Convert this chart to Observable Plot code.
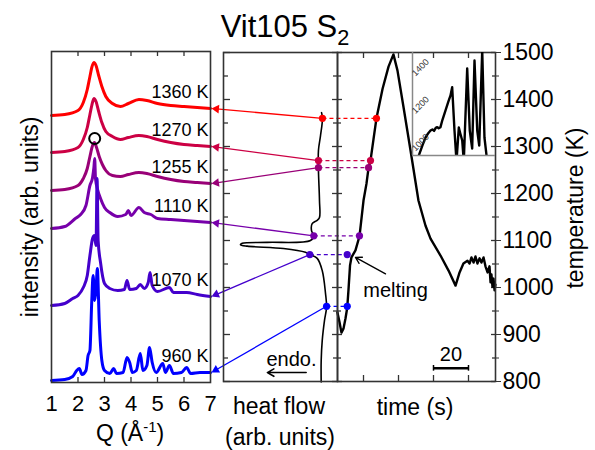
<!DOCTYPE html>
<html><head><meta charset="utf-8">
<script src="https://cdn.jsdelivr.net/npm/d3@7"></script>
<script src="https://cdn.jsdelivr.net/npm/@observablehq/plot@0.6"></script>
<style>
body{margin:0;background:#fff;}
#chart{position:relative;width:595px;height:450px;overflow:hidden;font-family:"Liberation Sans",Arial,sans-serif;color:#000;background:#fff;}
#chart svg{position:absolute;left:0;top:0;overflow:visible;background:transparent !important;}
.lbl{position:absolute;white-space:nowrap;line-height:1;}
</style></head><body><div id="chart"></div>
<script>
// ---------- data ----------
const temps = [1360, 1270, 1255, 1110, 1070, 960];
const colors = ["#ff0000", "#cc0044", "#990077", "#7700aa", "#4400cc", "#0000ff"];
const dscHF = [86.8, 83.3, 83.3, 79.2, 75.7, 90.4];        // heat flow at each probe temperature
const probeTime = [27.4, 24.0, 22.9, 17.7, 10.7, 10.7];    // time (s) at each probe temperature

// XRD curves (Q in 1/Å, intensity in arb. units incl. offset)
const q1360 = [1,1.5,2,2.2,2.35,2.45,2.52,2.6,2.68,2.78,2.9,3.05,3.3,3.6,3.9,4.3,4.6,5,5.5,6,6.5,7];
const i1360 = [267,268,272,280,293,306,315,320,317,307,296,286,279,276,279,283,282,279,277,276,275,274];
const q1270 = [1,1.5,2,2.2,2.35,2.45,2.52,2.6,2.68,2.78,2.9,3.05,3.3,3.6,3.9,4.3,4.6,5,5.5,6,6.5,7];
const i1270 = [230,231,235,243,255,268,277,284,281,271,260,251,246,243,245,247,246,243,240,238,237,236];
const q1255 = [1,1.5,2,2.2,2.35,2.45,2.55,2.62,2.7,2.8,2.92,3.05,3.3,3.6,3.9,4.3,4.6,5,5.5,6,6.5,7];
const i1255 = [192,193,197,204,214,226,237,240,235,226,218,212,207,206,208,210,209,206,203,201,200,199];
const q1110 = [1,1.5,1.9,2.1,2.3,2.45,2.55,2.6,2.63,2.66,2.75,2.85,3,3.2,3.5,3.8,3.9,4,4.3,4.5,4.75,5,5.5,6,6.5,7];
const i1110 = [154,156,164,168,177,197,205,215,224,204,192,184,175,170,166,168,172,167,175,170,168,164,163,162,161,160];
const q1070 = [1,1.5,1.8,2,2.2,2.35,2.45,2.55,2.62,2.68,2.72,2.76,2.85,3,3.2,3.5,3.75,3.85,3.95,4.2,4.35,4.5,4.65,4.72,4.8,5,5.45,5.6,6.1,6.5,7];
const i1070 = [77,79,84,87,95,107,127,144,147,137,204,142,120,99,94,92,93,102,93,94,98,94,100,110,97,91,95,90,90,88,86];
const q960 = [1,1.5,1.8,1.95,2.05,2.15,2.3,2.38,2.45,2.52,2.57,2.63,2.68,2.73,2.8,2.9,3,3.2,3.35,3.45,3.7,3.85,3.95,4.05,4.2,4.35,4.45,4.6,4.7,4.8,4.95,5.2,5.3,5.45,5.6,5.9,6.1,6.25,6.6,7];
const i960 = [2,3,6,12,14,8,12,27,32,82,107,82,92,114,62,22,12,9,14,9,10,25,20,10,12,29,12,17,35,20,10,19,10,17,9,10,15,9,10,10];
const circleMark = {q: 2.63, I: 244};

// DSC trace
const dscHeat = [86.0,86.8,85.1,83.3,83.3,84.2,84.2,82.2,77.8,77.2,79.2,76.3,38.3,16.4,14.9,20.8,52.6,71.9,75.7,82.2,86.6,89.5,90.4,88.6,86.6,85.7,85.7];
const dscTemp = [1372,1360,1323,1292,1249,1185,1149,1143,1136,1121,1110,1100,1096,1094,1091,1088,1083,1075,1070,1062,1036,987,958,930,887,845,799];

// temperature vs time
const timeS = [5.1,6.3,7.4,8.6,9.7,10.7,11.4,12.3,13.1,15.4,17.7,20.0,21.7,22.9,24.0,25.7,27.4,30.9,34.3,37.1,39.4,42.9,46.9,51.4,55.4,58.3,64.0,68.6,72.6,74.9,77.1,79.4,80.6,81.7,82.9,84.0,85.1,86.3,87.4,88.6,89.7,90.9,92.0,92.6,93.1,93.7,94.3,94.9,95.4];
const tempK = [947,926,904,913,934,957,994,1047,1064,1079,1109,1185,1221,1255,1270,1315,1360,1423,1470,1496,1462,1383,1291,1185,1132,1104,1068,1036,1004,1032,1051,1057,1051,1064,1053,1066,1051,1062,1053,1064,1045,1032,1045,1011,1028,1002,1019,994,1006];

// inset (temperature vs time, later cycles)
const insetTime = [7.6,12,15.7,19,21.7,24,26,28,29.8,31.5,33.7,36,39.8,43,45.8,47.8,50.6,53.0,55.8,57.5,59.9,61.8,65.9,69.0,71.9,74.7,78.0,80.4,84.0,86.7,90.0];
const insetTemp = [931,985,1027,1050,1064,1070,1062,1078,1082,1076,1082,1120,1171,1215,1251,1295,1064,900,1080,1050,1011,900,1395,1064,968,1437,1064,984,1490,1027,900];
const insetTicks = [1000, 1200, 1400];

// ticks / annotations
const qTicks = [1,2,3,4,5,6,7];
const tMajor = [800,900,1000,1100,1200,1300,1400,1500];
const tMinor = [850,950,1050,1150,1250,1350,1450];
const timeTicks = [20,40,60,80];
const scaleBar = {t1: 60, t2: 80, T: 828, label: "20", labelT: 857};
const melting = {t: 38.3, T: 994, label: "melting", t1: 32.6, T1: 1029, t2: 15.4, T2: 1064};
const endo = {hf: 59.6, T: 846, label: "endo.", hf1: 72.5, hf2: 38.5, Ta: 819};

// ---------- layout ----------
const W = 595, H = 450;
const FONT = '"Liberation Sans", Arial, sans-serif';
const AX = "#333";
const chart = document.getElementById("chart");
const colorScale = {type: "ordinal", domain: temps, range: colors};
function prep(svg) {
  svg.style.position = "absolute"; svg.style.left = "0px"; svg.style.top = "0px";
  svg.style.background = "transparent"; svg.style.overflow = "visible"; svg.style.fontFamily = FONT;
  return svg;
}

// Panel 1: XRD
const curves = [[q1360,i1360],[q1270,i1270],[q1255,i1255],[q1110,i1110],[q1070,i1070],[q960,i960]];
const xrdRows = curves.flatMap(([q, I], k) => q.map((v, j) => ({T: temps[k], q: v, I: I[j]})));
const ends = curves.map(([q, I]) => I[I.length - 1]);
const endRows = temps.map((T, k) => ({T, q: 7, I: ends[k]}));
const F1 = {l: 51, r: 210, t: 51, b: 382};
const p1 = prep(Plot.plot({
  width: W, height: H, marginLeft: F1.l, marginRight: W - F1.r, marginTop: F1.t, marginBottom: H - F1.b,
  x: {domain: [1, 7]}, y: {domain: [0, 331], axis: null}, color: colorScale,
  marks: [
    Plot.line(xrdRows, {x: "q", y: "I", z: "T", stroke: "T", strokeWidth: 3, strokeLinejoin: "round", curve: "monotone-x"}),
    Plot.dot([circleMark], {x: "q", y: "I", r: 5.5, stroke: "black", strokeWidth: 2, fill: "none"}),
    Plot.text(endRows, {x: "q", y: "I", text: d => `${d.T} K`, textAnchor: "end", dx: -2, dy: -16, fontSize: 18}),
    Plot.tickX(qTicks.slice(1, -1), {x: d => d, insetBottom: 326, stroke: AX, strokeWidth: 1.3}),
    Plot.tickX(qTicks.slice(1, -1), {x: d => d, insetTop: 326, stroke: AX, strokeWidth: 1.3}),
    Plot.frame({stroke: AX, strokeWidth: 1.6}),
    Plot.axisX({anchor: "bottom", ticks: qTicks, tickFormat: d => String(d), tickSize: 0, tickPadding: 13, fontSize: 22, label: null})
  ]
}));

// Panel 2: DSC
const F2 = {l: 223, r: 337, t: 52, b: 381};
const dscRows = dscHeat.map((h, k) => ({hf: h, T: dscTemp[k]}));
const probes2 = temps.map((T, k) => ({T, hf: dscHF[k]}));
const w2 = F2.r - F2.l;
const p2 = prep(Plot.plot({
  width: W, height: H, marginLeft: F2.l, marginRight: W - F2.r, marginTop: F2.t, marginBottom: H - F2.b,
  x: {domain: [0, 100], axis: null}, y: {domain: [800, 1500], axis: null}, color: colorScale,
  marks: [
    Plot.tickY(tMajor, {y: d => d, insetRight: w2 - 7, stroke: AX, strokeWidth: 1.3}),
    Plot.tickY(tMinor, {y: d => d, insetRight: w2 - 5, stroke: AX, strokeWidth: 1.3}),
    Plot.tickY(tMajor, {y: d => d, insetLeft: w2 - 5, stroke: AX, strokeWidth: 1.3}),
    Plot.tickY(tMinor, {y: d => d, insetLeft: w2 - 4, stroke: AX, strokeWidth: 1.3}),
    Plot.line(dscRows, {x: "hf", y: "T", stroke: "black", strokeWidth: 1.6, curve: "catmull-rom"}),
    Plot.arrow([endo], {x1: "hf1", y1: "Ta", x2: "hf2", y2: "Ta", stroke: "black", strokeWidth: 1.6, headLength: 7}),
    Plot.text([endo], {x: "hf", y: "T", text: "label", fontSize: 20}),
    Plot.dot(probes2, {x: "hf", y: "T", fill: "T", r: 3.6}),
    Plot.frame({stroke: AX, strokeWidth: 1.6})
  ]
}));

// Panel 3: temperature vs time
const F3 = {l: 337, r: 495, t: 52, b: 381};
const w3 = F3.r - F3.l, h3 = F3.b - F3.t;
const tRows = timeS.map((t, k) => ({t, T: tempK[k]}));
const probes3 = temps.map((T, k) => ({T, t: probeTime[k]}));
const p3 = prep(Plot.plot({
  width: W, height: H, marginLeft: F3.l, marginRight: W - F3.r, marginTop: F3.t, marginBottom: H - F3.b,
  x: {domain: [5.14, 95.43], axis: null}, y: {domain: [800, 1500]}, color: colorScale,
  marks: [
    Plot.tickX(timeTicks, {x: d => d, insetBottom: h3 - 6, stroke: AX, strokeWidth: 1.3}),
    Plot.tickX(timeTicks, {x: d => d, insetTop: h3 - 6, stroke: AX, strokeWidth: 1.3}),
    Plot.tickY(tMajor, {y: d => d, insetRight: w3 - 5, stroke: AX, strokeWidth: 1.3}),
    Plot.tickY(tMinor, {y: d => d, insetRight: w3 - 4, stroke: AX, strokeWidth: 1.3}),
    Plot.tickY(tMajor, {y: d => d, insetLeft: w3 - 4, stroke: AX, strokeWidth: 1.3}),
    Plot.tickY(tMinor, {y: d => d, insetLeft: w3 - 3, stroke: AX, strokeWidth: 1.3}),
    Plot.line(tRows, {x: "t", y: "T", stroke: "black", strokeWidth: 2.4, strokeLinejoin: "round"}),
    Plot.ruleY([scaleBar], {x1: "t1", x2: "t2", y: "T", stroke: "black", strokeWidth: 2.5}),
    Plot.ruleX([scaleBar.t1, scaleBar.t2], {x: d => d, y1: scaleBar.T - 6, y2: scaleBar.T + 6, stroke: "black", strokeWidth: 1.5}),
    Plot.text([scaleBar], {x: d => (d.t1 + d.t2) / 2, y: "labelT", text: "label", fontSize: 20}),
    Plot.arrow([melting], {x1: "t1", y1: "T1", x2: "t2", y2: "T2", stroke: "black", strokeWidth: 1.3, headLength: 8}),
    Plot.text([melting], {x: "t", y: "T", text: "label", fontSize: 20}),
    Plot.dot(probes3, {x: "t", y: "T", fill: "T", r: 3.6}),
    Plot.frame({stroke: AX, strokeWidth: 1.6}),
    Plot.axisY({anchor: "right", ticks: tMajor, tickSize: 5, tickPadding: 2, fontSize: 23, label: null, stroke: AX, tickFormat: d => String(d)}),
    Plot.axisY({anchor: "right", ticks: tMinor, tickSize: 3, tickFormat: () => "", label: null, stroke: AX})
  ]
}));

// Inset
const FI = {l: 412, r: 495, t: 52, b: 155};
const iRows = insetTime.map((t, k) => ({t, T: insetTemp[k]}));
const pI = prep(Plot.plot({
  width: W, height: H, marginLeft: FI.l, marginRight: W - FI.r, marginTop: FI.t, marginBottom: H - FI.b,
  x: {domain: [0, 100], axis: null}, y: {domain: [931, 1480], axis: null},
  marks: [
    Plot.line(iRows, {x: "t", y: "T", stroke: "black", strokeWidth: 2.4, clip: true, strokeLinejoin: "round"}),
    Plot.ruleX([0], {stroke: "#888", strokeWidth: 1.5}),
    Plot.ruleY([931], {stroke: "#888", strokeWidth: 1.5}),
    Plot.text(insetTicks, {x: () => 0, y: d => d, text: d => String(d), rotate: -45, dx: 8, fontSize: 9, fill: "#333"})
  ]
}));

// Overlay: connectors between panels, positioned with the panels' own scales
const sx1 = p1.scale("x"), sy1 = p1.scale("y");
const sx2 = p2.scale("x"), sy2 = p2.scale("y");
const sx3 = p3.scale("x");
const headR = 3.2;
const tipOff = 2 * Math.sqrt(Math.PI * headR * headR / (3 * Math.sqrt(3)));
const conn = temps.map((T, k) => {
  const xa = sx2.apply(dscHF[k]), ya = sy2.apply(T);
  const xb = sx1.apply(7) + 1, yb = sy1.apply(ends[k]);
  const len = Math.hypot(xb - xa, yb - ya), ux = (xb - xa) / len, uy = (yb - ya) / len;
  return {xa, ya, xb, yb, xh: xb - ux * tipOff, yh: yb - uy * tipOff,
          ang: Math.atan2(ux, -uy) * 180 / Math.PI, xt: sx3.apply(probeTime[k]), color: colors[k]};
});
const pO = prep(Plot.plot({
  width: W, height: H, margin: 0,
  x: {type: "identity", axis: null}, y: {type: "identity", axis: null}, color: {type: "identity"},
  marks: [
    Plot.link(conn, {x1: "xa", y1: "ya", x2: "xh", y2: "yh", stroke: "color", strokeWidth: 1.3}),
    Plot.dot(conn, {x: "xh", y: "yh", symbol: "triangle", r: headR, fill: "color", rotate: "ang"}),
    Plot.link(conn, {x1: "xa", y1: "ya", x2: "xt", y2: "ya", stroke: "color", strokeWidth: 1.3, strokeDasharray: "4,3"})
  ]
}));

[p1, pO, p2, p3, pI].forEach(s => chart.appendChild(s));

// Text labels
function label(html, cx, cy, size, rot) {
  const d = document.createElement("div");
  d.className = "lbl"; d.innerHTML = html;
  d.style.fontSize = size + "px"; d.style.left = cx + "px"; d.style.top = cy + "px";
  d.style.transform = `translate(-50%,-50%)` + (rot ? ` rotate(${rot}deg)` : "");
  chart.appendChild(d);
}
label('Vit105 S<span style="font-size:70%;position:relative;top:0.35em">2</span>', 285, 26, 31);
label("intensity (arb. units)", 30, 217, 23, -90);
label('Q (Å<span style="font-size:65%;position:relative;top:-0.6em">-1</span>)', 130, 433, 23);
label("heat flow", 279, 406, 23);
label("(arb. units)", 280, 437, 23);
label("time (s)", 415, 407, 23);
label("temperature (K)", 575, 208, 23, -90);
</script></body></html>
